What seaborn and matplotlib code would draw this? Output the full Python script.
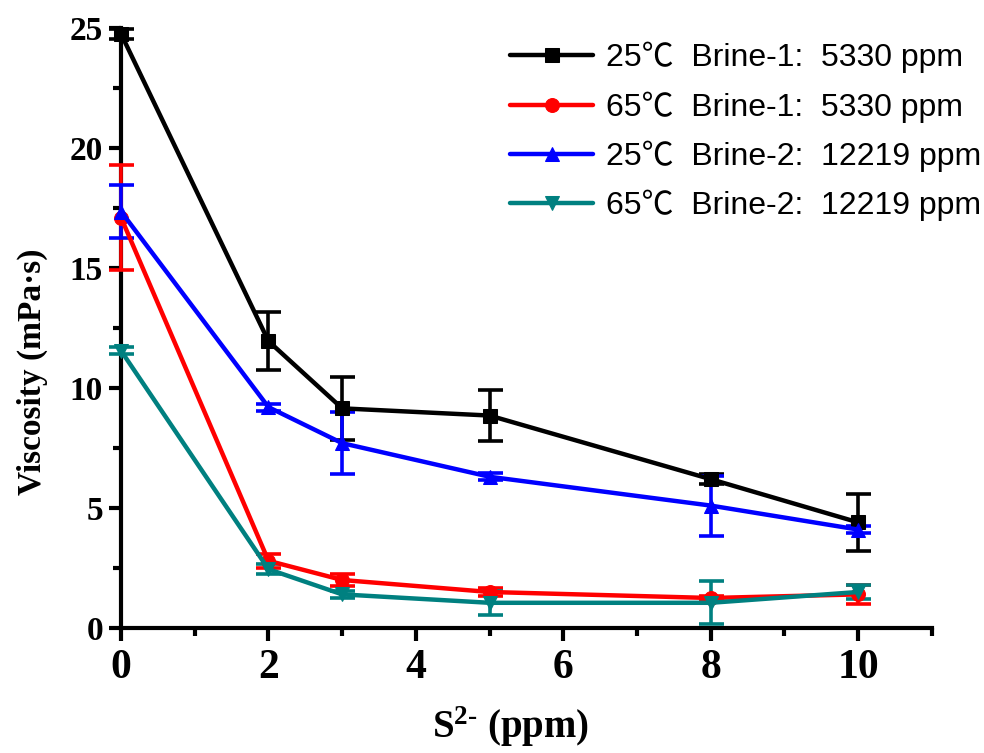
import numpy as np
import pandas as pd
import matplotlib
matplotlib.use("Agg")
import matplotlib.pyplot as plt
from matplotlib.ticker import MultipleLocator
import seaborn as sns

# Sulfide concentration (ppm)
s2_ppm = [0, 2, 3, 5, 8, 10]

# Viscosity (mPa·s) and its standard deviation for each condition
visc_25_b1 = [24.75, 11.95, 9.15, 8.85, 6.2, 4.4]
err_25_b1 = [0.2, 1.2, 1.3, 1.05, 0.2, 1.2]

visc_65_b1 = [17.1, 2.8, 2.0, 1.5, 1.25, 1.4]
err_65_b1 = [2.2, 0.3, 0.25, 0.15, 0.1, 0.4]

visc_25_b2 = [17.35, 9.2, 7.7, 6.3, 5.1, 4.1]
err_25_b2 = [1.1, 0.15, 1.3, 0.15, 1.25, 0.15]

visc_65_b2 = [11.55, 2.45, 1.4, 1.05, 1.05, 1.5]
err_65_b2 = [0.15, 0.2, 0.15, 0.5, 0.9, 0.3]

series_labels = [
    "25℃  Brine-1:  5330 ppm",
    "65℃  Brine-1:  5330 ppm",
    "25℃  Brine-2:  12219 ppm",
    "65℃  Brine-2:  12219 ppm",
]
series_values = [visc_25_b1, visc_65_b1, visc_25_b2, visc_65_b2]
series_errors = [err_25_b1, err_65_b1, err_25_b2, err_65_b2]
series_colors = ["#000000", "#FF0000", "#0000FF", "#008080"]
series_markers = ["s", "o", "^", "v"]

sns.set_style("ticks")
plt.rcParams["font.family"] = ["Liberation Serif", "DejaVu Serif"]
plt.rcParams["mathtext.fontset"] = "custom"
plt.rcParams["mathtext.rm"] = "Liberation Serif:bold"
plt.rcParams["mathtext.bf"] = "Liberation Serif:bold"
plt.rcParams["mathtext.it"] = "Liberation Serif:bold"
for key in ("text.color", "axes.labelcolor", "xtick.color", "ytick.color",
            "axes.edgecolor"):
    plt.rcParams[key] = "black"

fig, ax = plt.subplots(figsize=(9.84, 7.53), dpi=100)
fig.subplots_adjust(left=0.123, right=0.947, bottom=0.166, top=0.963)

frames = []
for label, vals in zip(series_labels, series_values):
    frames.append(pd.DataFrame({"s2": s2_ppm, "viscosity": vals, "series": label}))
df = pd.concat(frames, ignore_index=True)

for label, vals, errs, color, marker in zip(series_labels, series_values,
                                            series_errors, series_colors,
                                            series_markers):
    sub = df[df["series"] == label]
    ax.errorbar(s2_ppm, vals, yerr=errs, fmt="none", ecolor=color,
                elinewidth=2.6, capsize=9, capthick=2.6, clip_on=False,
                zorder=3)
    sns.lineplot(data=sub, x="s2", y="viscosity", color=color, marker=marker,
                 markersize=10, markeredgecolor=color, linewidth=3.2,
                 label=label, ax=ax, clip_on=False, zorder=4)

ax.set_xlim(0, 11)
ax.set_ylim(0, 25)
ax.xaxis.set_major_locator(MultipleLocator(2))
ax.xaxis.set_minor_locator(MultipleLocator(1))
ax.yaxis.set_major_locator(MultipleLocator(5))
ax.yaxis.set_minor_locator(MultipleLocator(2.5))

sns.despine(ax=ax)
for side in ("left", "bottom"):
    ax.spines[side].set_linewidth(3)
    ax.spines[side].set_color("black")
ax.tick_params(axis="both", which="major", direction="out", length=9, width=3,
               color="black", labelcolor="black")
ax.tick_params(axis="both", which="minor", direction="out", length=6, width=3,
               color="black")
ax.tick_params(axis="x", which="major", labelsize=30, pad=6)
ax.tick_params(axis="y", which="major", labelsize=24, pad=4)
for lab in ax.get_xticklabels() + ax.get_yticklabels():
    lab.set_fontweight("bold")

ax.set_xlabel(r"$\mathbf{S^{2\text{-}}}$ (ppm)", fontsize=28, fontweight="bold")
ax.set_ylabel("Viscosity (mPa·s)", fontsize=24, fontweight="bold")
ax.xaxis.set_label_coords(0.48, -0.128)
ax.yaxis.set_label_coords(-0.09, 0.427)

leg = ax.legend(loc="upper left", bbox_to_anchor=(510 / 984, 1 - 42 / 753),
                bbox_transform=fig.transFigure, frameon=False,
                prop={"family": ["Liberation Sans", "Noto Sans CJK SC"],
                      "size": 23},
                handlelength=2.6, handletextpad=0.4, labelspacing=0.56,
                borderpad=0, borderaxespad=0)

fig.savefig("out.png", dpi=100, facecolor="white")
